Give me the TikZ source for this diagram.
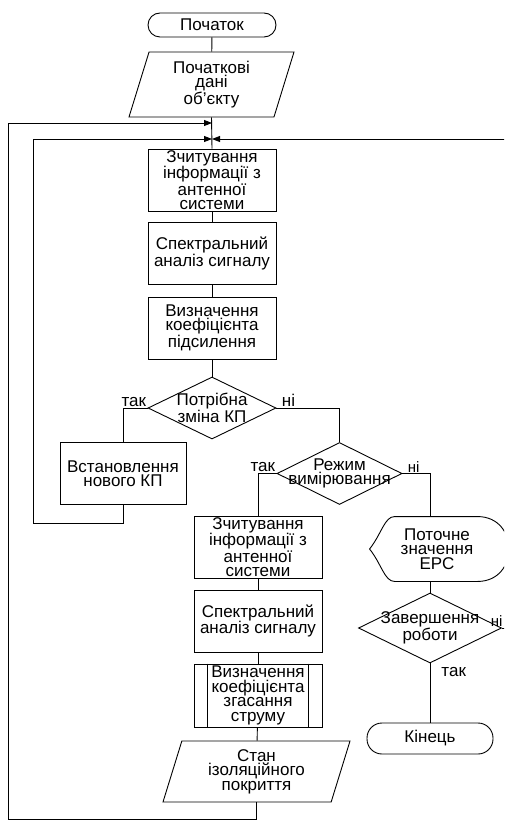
\documentclass[tikz,border=0pt]{standalone}
\usepackage{fontspec}
\setmainfont{Liberation Sans}
\usetikzlibrary{shapes.geometric, arrows.meta, calc}

\tikzset{
	blok/.style = {draw, rectangle, minimum width = 128pt, minimum height = 62pt, inner sep = 0pt, align = center},
	term/.style = {draw, rectangle, rounded corners = 12pt, minimum width = 128pt, minimum height = 24pt, inner sep = 0pt},
	dani/.style = {draw, trapezium, trapezium left angle = 67, trapezium right angle = 113, trapezium stretches body,
		minimum width = 165pt, minimum height = 65pt, inner sep = 0pt, align = center},
	romb/.style = {draw, diamond, aspect = 2, minimum width = 128pt, minimum height = 62pt, inner sep = 0pt},
	dspl/.style = {rectangle, minimum width = 134pt, minimum height = 64pt, inner sep = 0pt, align = center},
	mitka/.style = {inner sep = 1pt},
	mala/.style = {font = \fontsize{15}{15}\selectfont},
	strl/.style = {-{Triangle[length = 8pt, width = 6pt]}},
}

\begin{document}
\begin{tikzpicture}[x = 1pt, y = -1pt, line width = 0.9pt, font = \fontsize{17}{14.5}\selectfont]
	\path[use as bounding box, clip] (0,0) rectangle (504,821);
	
	\node [term] (start) at (212,25) {Початок};
	\node [dani] (dani1) at (211.5,84.5) {Початкові\\дані\\об'єкту};
	\node [blok] (chyt1) at (212,180) {Зчитування\\інформації з\\антенної\\системи};
	\node [blok] (spek1) at (212,253.5) {Спектральний\\аналіз сигналу};
	\node [blok] (koef1) at (212,328) {Визначення\\коефіцієнта\\підсилення};
	\node [romb, label = {[align = center]center:Потрібна\\зміна КП}] (kp) at (212,408) {};
	\node [blok, minimum width = 126pt] (novkp) at (123,473.5) {Встановлення\\нового КП};
	\node [romb, minimum width = 125pt, label = {[align = center]center:Режим\\вимірювання}] (rezhym) at (339.5,473.5) {};
	
	\node [blok] (chyt2) at (258,547) {Зчитування\\інформації з\\антенної\\системи};
	\node [blok] (spek2) at (258,621) {Спектральний\\аналіз сигналу};
	\node [blok, minimum height = 63pt] (koef2) at (258,695.5) {Визначення\\коефіцієнта\\згасання\\струму};
	\draw ([xshift = 14pt]koef2.north west) -- ([xshift = 14pt]koef2.south west);
	\draw ([xshift = -14pt]koef2.north east) -- ([xshift = -14pt]koef2.south east);
	\node [dani, minimum width = 187pt, minimum height = 61pt] (stan) at (256.5,771.5) {Стан\\ізоляційного\\покриття};
	
	\node [dspl] (epc) at (437,549) {Поточне\\значення\\ЕРС};
	\draw (epc.west) .. controls ($(epc.west)+(12,-15)$) and ($(epc.north west)+(15,0)$) .. ($(epc.north west)+(25,0)$)
		-- ($(epc.north east)+(-27,0)$) .. controls ($(epc.north east)+(15,0)$) and ($(epc.south east)+(15,0)$) .. ($(epc.south east)+(-27,0)$)
		-- ($(epc.south west)+(25,0)$) .. controls ($(epc.south west)+(15,0)$) and ($(epc.west)+(12,15)$) .. (epc.west);
	\node [romb, minimum width = 143pt, minimum height = 70pt, label = {[align = center]center:Завершення\\роботи}] (kinrob) at (430,628) {};
	\node [term, minimum width = 126pt, minimum height = 31pt, rounded corners = 15pt] (kin) at (430,738.5) {Кінець};
	
	\coordinate (vh1) at (212,123);
	\coordinate (vh2) at (212,139);
	\coordinate (kut1) at (8,819);
	\coordinate (kut2) at (33,523);
	\coordinate (kut3) at (512,628);
	
	% osnovna liniia
	\draw (start) -- (dani1);
	\draw (dani1.south) -- (chyt1.north);
	\draw (chyt1) -- (spek1);
	\draw (spek1) -- (koef1);
	\draw (koef1) -- (kp);
	\draw (kp.west) -| (novkp.north);
	\draw (kp.east) -| (rezhym.north);
	\draw (rezhym.west) -| (chyt2.north);
	\draw (rezhym.east) -| (epc.north -| kinrob.north);
	\draw (chyt2) -- (spek2);
	\draw (spek2) -- (koef2);
	\draw (koef2) -- (stan);
	\draw (epc.south -| kinrob.north) -- (kinrob.north);
	\draw (kinrob.south) -- (kin.north);
	
	% povernennia
	\draw [strl] (stan.south) |- (kut1) |- (vh1);
	\draw [strl] (novkp.south) |- (kut2) |- (vh2);
	\draw [strl] (kinrob.east) -- (kut3) |- (vh2);
	
	\node [mitka, anchor = south east] at (kp.west) {так};
	\node [mitka, anchor = south west, xshift = 4pt] at (kp.east) {ні};
	\node [mitka, anchor = south east] at (rezhym.west) {так};
	\node [mitka, mala, anchor = south west, xshift = 4pt] at (rezhym.east) {ні};
	\node [mitka, mala, anchor = south east, xshift = 2pt] at (kinrob.east) {ні};
	\node [mitka, anchor = north west, xshift = 10pt, yshift = -2pt] at (kinrob.south) {так};
\end{tikzpicture}
\end{document}
